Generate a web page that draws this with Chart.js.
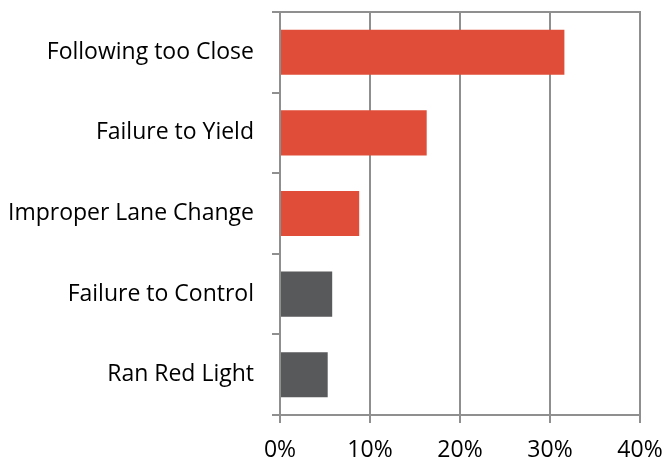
<!DOCTYPE html>
<html>
<head>
<meta charset="utf-8">
<script src="https://cdn.jsdelivr.net/npm/chart.js@4.4.1/dist/chart.umd.min.js"></script>
<style>
  html, body { margin: 0; padding: 0; background: #ffffff; }
  #wrap { width: 665px; height: 460px; position: relative; }
</style>
</head>
<body>
<div id="wrap"><canvas id="chart"></canvas></div>
<script>
// dados
const categories = ['Following too Close', 'Failure to Yield', 'Improper Lane Change', 'Failure to Control', 'Ran Red Light'];
const shares = [31.6, 16.3, 8.8, 5.8, 5.3];
const xMin = 0;
const xMax = 40;
const xStep = 10;

const RED = '#E04E39';
const GREY = '#58595B';
const LINE = '#8f8f8f';
const barColors = [RED, RED, RED, GREY, GREY];
const FONT = "'Open Sans', sans-serif";

// linha superior do quadro (igual à borda do eixo)
const topBorder = {
  id: 'topBorder',
  afterDatasetsDraw(chart) {
    const { ctx, chartArea } = chart;
    ctx.save();
    ctx.strokeStyle = LINE;
    ctx.lineWidth = 2;
    ctx.beginPath();
    ctx.moveTo(chartArea.left - 8, chartArea.top);
    ctx.lineTo(chartArea.right + 1, chartArea.top);
    ctx.stroke();
    ctx.restore();
  }
};

const ctx = document.getElementById('chart').getContext('2d');
new Chart(ctx, {
  type: 'bar',
  data: {
    labels: categories,
    datasets: [{
      data: shares,
      backgroundColor: barColors,
      borderWidth: 0,
      barPercentage: 0.56,
      categoryPercentage: 1
    }]
  },
  options: {
    indexAxis: 'y',
    responsive: true,
    maintainAspectRatio: false,
    animation: false,
    layout: { padding: { top: 12, right: 0, left: 0, bottom: 0 } },
    plugins: {
      legend: { display: false },
      tooltip: { enabled: false }
    },
    scales: {
      x: {
        min: xMin,
        max: xMax,
        ticks: {
          stepSize: xStep,
          color: '#000',
          padding: 14,
          font: { family: FONT, size: 23 },
          callback: v => v + '%'
        },
        grid: { color: LINE, lineWidth: 2, tickLength: 8 },
        border: { color: LINE, width: 2 },
        afterFit(scale) {
          scale.height = 45;
          scale.paddingLeft = 0;
          scale.paddingRight = 25;
        }
      },
      y: {
        ticks: {
          color: '#000',
          padding: 18,
          font: { family: FONT, size: 23 }
        },
        grid: { offset: true, drawOnChartArea: false, color: LINE, lineWidth: 2, tickLength: 8 },
        border: { color: LINE, width: 2 },
        afterFit(scale) {
          scale.width = 280;
          scale.paddingTop = 0;
          scale.paddingBottom = 0;
        }
      }
    }
  },
  plugins: [topBorder]
});
</script>
</body>
</html>
